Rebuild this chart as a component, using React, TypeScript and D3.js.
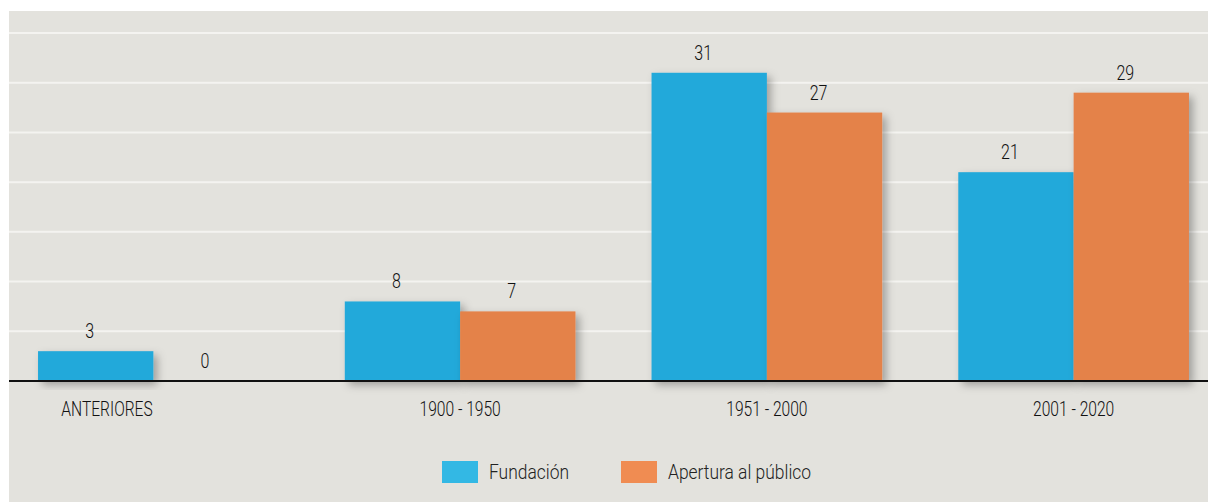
import React, { useEffect, useRef } from 'react';
import * as d3 from 'd3';

const categories = ['ANTERIORES', '1900 - 1950', '1951 - 2000', '2001 - 2020'];
const seriesNames = ['Fundación', 'Apertura al público'];
const fundacion = [3, 8, 31, 21];
const apertura = [0, 7, 27, 29];
const yTicks = [0, 5, 10, 15, 20, 25, 30, 35];

const barColors = ['#24a9da', '#e4824a'];
const legendColors = ['#33b8e4', '#f08c52'];
const FONT = 'Roboto, "DejaVu Sans", sans-serif';

const App = () => {
  const ref = useRef<SVGSVGElement>(null);

  useEffect(() => {
    const svg = d3.select(ref.current);
    svg.selectAll('*').remove();

    const defs = svg.append('defs');
    const f = defs.append('filter').attr('id', 'shadow')
      .attr('x', '-20%').attr('y', '-20%').attr('width', '150%').attr('height', '150%');
    f.append('feDropShadow')
      .attr('dx', 4).attr('dy', 4).attr('stdDeviation', 4)
      .attr('flood-color', '#000').attr('flood-opacity', 0.3);

    // fondo
    svg.append('rect')
      .attr('x', 9).attr('y', 11)
      .attr('width', 1199).attr('height', 491)
      .attr('fill', '#e3e2dd');

    const y = d3.scaleLinear().domain([0, 35]).range([381, 33]);

    const x = d3.scaleBand<string>()
      .domain(categories)
      .range([0, 1227])
      .paddingInner(0.248)
      .paddingOuter(0.124);

    const xs = d3.scaleBand<string>()
      .domain(seriesNames)
      .range([0, x.bandwidth()]);

    // grid
    svg.append('g')
      .selectAll('line')
      .data(yTicks.filter(d => d > 0))
      .enter()
      .append('line')
      .attr('x1', 9).attr('x2', 1208)
      .attr('y1', d => y(d)).attr('y2', d => y(d))
      .attr('stroke', '#f4f3f0')
      .attr('stroke-width', 2);

    const rows = categories.map((c, i) => ({ c, vals: [fundacion[i], apertura[i]] }));

    // barras
    const groups = svg.append('g')
      .selectAll('g')
      .data(rows)
      .enter()
      .append('g')
      .attr('transform', d => `translate(${x(d.c)},0)`);

    groups.selectAll('rect')
      .data(d => d.vals.map((v, k) => ({ v, k })))
      .enter()
      .filter(d => d.v > 0)
      .append('rect')
      .attr('x', d => xs(seriesNames[d.k]) as number)
      .attr('y', d => y(d.v))
      .attr('width', xs.bandwidth())
      .attr('height', d => y(0) - y(d.v))
      .attr('fill', d => barColors[d.k])
      .attr('filter', 'url(#shadow)');

    groups.selectAll('text')
      .data(d => d.vals.map((v, k) => ({ v, k })))
      .enter()
      .append('text')
      .attr('transform', d => `translate(${(xs(seriesNames[d.k]) as number) + xs.bandwidth() / 2 - 6},${y(d.v) - 13}) scale(0.8,1)`)
      .attr('text-anchor', 'middle')
      .attr('font-family', FONT)
      .attr('font-size', 20)
      .attr('font-weight', 300)
      .attr('fill', '#111')
      .text(d => d.v);

    // eje
    svg.append('line')
      .attr('x1', 9).attr('x2', 1208)
      .attr('y1', y(0)).attr('y2', y(0))
      .attr('stroke', '#111')
      .attr('stroke-width', 2);

    svg.append('g')
      .selectAll('text')
      .data(categories)
      .enter()
      .append('text')
      .attr('transform', (d, i) => {
        const cx = i === 0 ? (x(d) as number) + 69 : (x(d) as number) + x.bandwidth() / 2;
        return `translate(${cx},416) scale(0.78,1)`;
      })
      .attr('text-anchor', 'middle')
      .attr('font-family', FONT)
      .attr('font-size', 20)
      .attr('font-weight', 300)
      .attr('fill', '#111')
      .text(d => d);

    // leyenda
    const legendX = [442, 621];
    const leg = svg.append('g')
      .selectAll('g')
      .data(seriesNames)
      .enter()
      .append('g')
      .attr('transform', (d, i) => `translate(${legendX[i]},461)`);
    leg.append('rect')
      .attr('width', 36).attr('height', 22)
      .attr('fill', (d, i) => legendColors[i]);
    leg.append('text')
      .attr('transform', 'translate(47,18) scale(0.83,1)')
      .attr('font-family', FONT)
      .attr('font-size', 21)
      .attr('font-weight', 300)
      .attr('fill', '#222')
      .text(d => d);
  }, []);

  return (
    <svg ref={ref} width={1208} height={502}
      style={{ position: 'absolute', left: 0, top: 0, background: '#fff' }} />
  );
};

export default App;
